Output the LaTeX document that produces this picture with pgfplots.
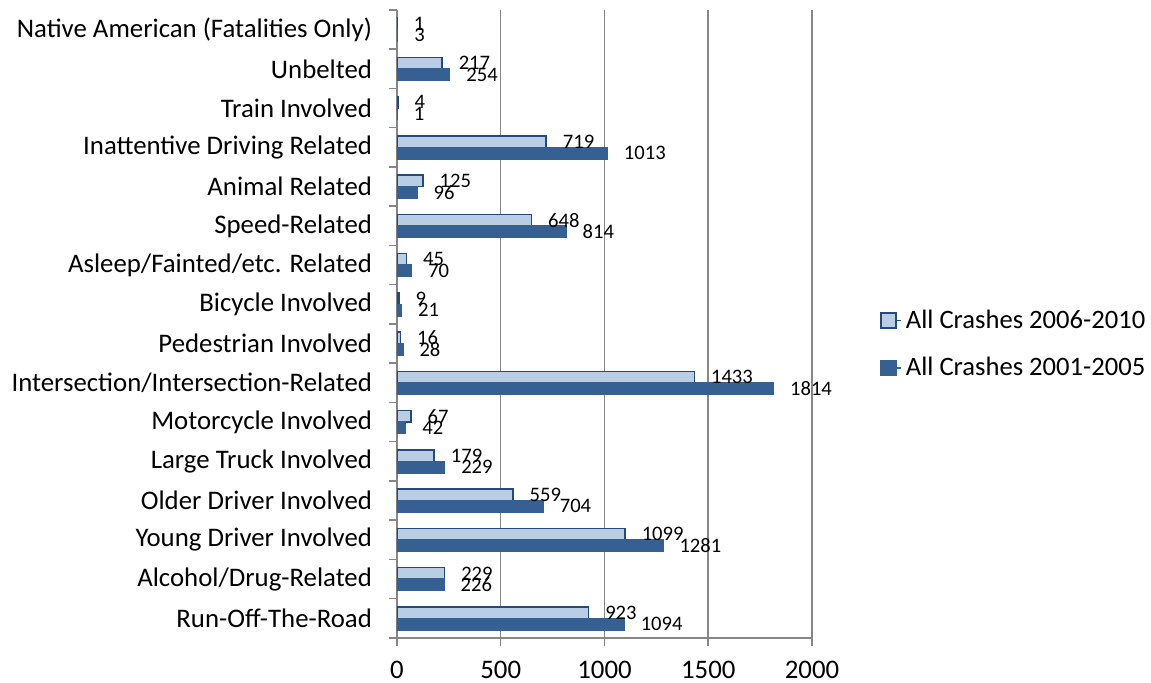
\documentclass[border=0pt]{standalone}
\usepackage{fontspec}
\setmainfont{Carlito}
\usepackage{pgfplots}
\pgfplotsset{compat=1.18}
\definecolor{lightbar}{RGB}{185,205,229}
\definecolor{darkbar}{RGB}{55,96,146}
\definecolor{baredge}{RGB}{37,74,122}
\definecolor{gridgray}{RGB}{134,134,134}
\begin{document}
\begin{tikzpicture}
\begin{axis}[
  scale only axis, width=207.5pt, height=314pt,
  xbar, bar width=5.75pt,
  xmin=0, xmax=2000, ymin=-0.5, ymax=15.5,
  enlargelimits=false,
  axis x line*=bottom, axis y line*=left,
  axis line style={gridgray, line width=0.75pt, -},
  xtick={0,500,...,2000},
  xmajorgrids, grid style={gridgray, line width=0.75pt},
  tick align=outside,
  major tick length=4pt, minor tick length=4pt,
  x tick style={gridgray, line width=0.75pt},
  ytick={0,...,15},
  minor ytick={-0.5,0.5,...,15.5},
  major y tick style={draw=none},
  minor y tick style={gridgray, line width=0.75pt},
  yticklabels={Run-Off-The-Road, Alcohol/Drug-Related, Young Driver Involved,
    Older Driver Involved, Large Truck Involved, Motorcycle Involved,
    Intersection/Intersection-Related, Pedestrian Involved, Bicycle Involved,
    Asleep/Fainted/etc. Related, Speed-Related, Animal Related,
    Inattentive Driving Related, Train Involved, Unbelted,
    Native American (Fatalities Only)},
  yticklabel style={font=\fontsize{13.4}{15}\selectfont, xshift=-5pt},
  xticklabel style={font=\fontsize{13.4}{15}\selectfont, yshift=-4pt},
  /pgf/number format/assume math mode=true,
  /pgf/number format/1000 sep={},
  point meta=x,
  nodes near coords,
  nodes near coords style={font=\fontsize{10.3}{12}\selectfont, anchor=west,
    inner sep=0pt, xshift=8pt, black},
  legend style={draw=none, fill=none, at={(1.164,0.468)}, anchor=west,
    inner sep=0pt, row sep=9pt, font=\fontsize{13.3}{15}\selectfont,
    cells={anchor=west}},
  legend image code/.code={\draw[#1] (0pt,-3.75pt) rectangle (7.5pt,3.75pt);
    \path (7.5pt,0pt) -- (10pt,0pt);},
]
\coordinate (o) at (rel axis cs:0,0);

% 2006-2010
\addplot[fill=lightbar, draw=baredge, line width=0.75pt, bar shift=2.875pt] coordinates {
  (923,0) (229,1) (1099,2) (559,3) (179,4) (67,5) (1433,6) (16,7)
  (9,8) (45,9) (648,10) (125,11) (719,12) (4,13) (217,14) (1,15)
};
% 2001-2005
\addplot[fill=darkbar, draw=darkbar, line width=0.75pt, bar shift=-2.875pt] coordinates {
  (1094,0) (226,1) (1281,2) (704,3) (229,4) (42,5) (1814,6) (28,7)
  (21,8) (70,9) (814,10) (96,11) (1013,12) (1,13) (254,14) (3,15)
};
\legend{All Crashes 2006-2010, All Crashes 2001-2005}
\end{axis}
\pgfresetboundingbox
\path[use as bounding box] (o) ++(-198.5pt,-22.5pt) rectangle ++(575.5pt,341.5pt);
\end{tikzpicture}
\end{document}
